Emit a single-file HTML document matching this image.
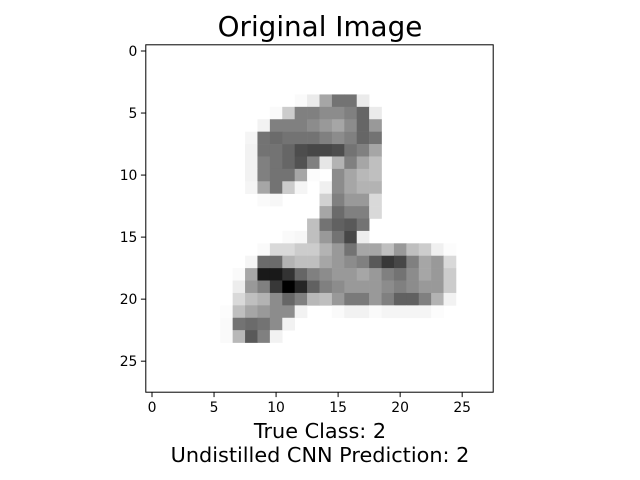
<!DOCTYPE html>
<html><head><meta charset="utf-8"><style>
body{margin:0;background:#fff;}
svg{display:block;font-family:"DejaVu Sans","Liberation Sans",sans-serif;}
</style></head><body>
<svg id="chart" width="640" height="480">
<text x="320" y="36" text-anchor="middle" font-size="27.8">Original Image</text>
<g id="cells"></g>
<rect x="145.8" y="44.8" width="347.4" height="347.4" fill="none" stroke="#000" stroke-width="1"/>
<g id="ticks"></g>
<text x="320" y="438" text-anchor="middle" font-size="20.8">True Class: 2</text>
<text x="320" y="462" text-anchor="middle" font-size="20.8">Undistilled CNN Prediction: 2</text>
</svg>
<script>
const xTicks=[0,5,10,15,20,25];
const yTicks=[0,5,10,15,20,25];
// sparse pixel intensities: [row, startCol, values...]
const pixelRows=[
[4,12,.02,.08,.35,.55,.55,.08],
[5,10,.02,.2,.5,.5,.45,.45,.5,.6,.08],
[6,9,.05,.5,.5,.5,.45,.4,.35,.45,.6,.4],
[7,8,.04,.55,.58,.55,.55,.55,.5,.45,.5,.6,.55],
[8,8,.05,.55,.55,.6,.7,.72,.72,.7,.55,.5,.35],
[9,8,.05,.5,.55,.6,.68,.5,.1,.3,.5,.35,.25],
[10,8,.05,.5,.55,.55,.35,.01,0,.45,.35,.28,.25],
[11,8,.04,.35,.55,.2,.04,0,.06,.45,.35,.3,.3],
[12,9,.02,.03,0,0,0,.18,.5,.4,.4,.15],
[13,14,.35,.58,.5,.5,.15],
[14,13,.25,.55,.62,.65,.55],
[15,11,.02,.03,.25,.4,.55,.72,.07],
[16,9,.02,.15,.15,.2,.2,.3,.4,.55,.35,.35,.25,.4,.25,.2,.06,.01],
[17,8,.04,.58,.58,.3,.25,.25,.35,.4,.45,.5,.65,.78,.72,.5,.35,.4,.15],
[18,7,.02,.35,.9,.9,.8,.6,.5,.45,.4,.4,.35,.4,.5,.55,.45,.35,.4,.2],
[19,7,.07,.4,.5,.78,1.0,.85,.62,.5,.45,.4,.4,.4,.45,.5,.45,.4,.4,.2],
[20,7,.15,.25,.3,.45,.6,.5,.28,.25,.4,.52,.52,.4,.5,.62,.62,.5,.3,.05],
[21,6,.01,.25,.35,.4,.45,.45,.05,0,0,.02,.05,.05,.02,.04,.04,.04,.04,.01],
[22,6,.02,.55,.58,.55,.45,.05],
[23,6,.02,.28,.65,.5,.05]
];
const N=28, X0=145.8, Y0=44.8, S=347.4/28;
const sx=v=>X0+(v+0.5)*S, sy=v=>Y0+(v+0.5)*S;
const ns="http://www.w3.org/2000/svg";
const cells=document.getElementById('cells');
pixelRows.forEach(r=>{
  const row=r[0], c0=r[1];
  r.slice(2).forEach((v,i)=>{
    if(v<=0)return;
    const g=Math.round(255*(1-v));
    const el=document.createElementNS(ns,'rect');
    el.setAttribute('x',(sx(c0+i)-S/2).toFixed(2));
    el.setAttribute('y',(sy(row)-S/2).toFixed(2));
    el.setAttribute('width',(S+0.3).toFixed(2));
    el.setAttribute('height',(S+0.3).toFixed(2));
    el.setAttribute('fill',`rgb(${g},${g},${g})`);
    
    
    cells.appendChild(el);
  });
});
const tg=document.getElementById('ticks');
const B=Y0+347.4;
xTicks.forEach(t=>{
  const l=document.createElementNS(ns,'line');
  l.setAttribute('x1',sx(t));l.setAttribute('x2',sx(t));l.setAttribute('y1',B);l.setAttribute('y2',B+4.9);l.setAttribute('stroke','#000');
  
  
  tg.appendChild(l);
  const tx=document.createElementNS(ns,'text');
  tx.setAttribute('x',sx(t));tx.setAttribute('y',B+20);tx.setAttribute('text-anchor','middle');tx.setAttribute('font-size','13.9');
  tx.textContent=t;
  
  
  tg.appendChild(tx);
});
yTicks.forEach(t=>{
  const l=document.createElementNS(ns,'line');
  l.setAttribute('x1',X0-4.9);l.setAttribute('x2',X0);l.setAttribute('y1',sy(t));l.setAttribute('y2',sy(t));l.setAttribute('stroke','#000');
  
  
  tg.appendChild(l);
  const tx=document.createElementNS(ns,'text');
  tx.setAttribute('x',X0-8.4);tx.setAttribute('y',sy(t)+5);tx.setAttribute('text-anchor','end');tx.setAttribute('font-size','13.9');
  tx.textContent=t;
  
  
  tg.appendChild(tx);
});
</script>
</body></html>
